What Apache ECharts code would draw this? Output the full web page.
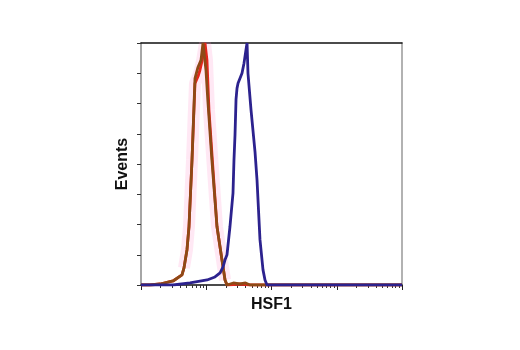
<!DOCTYPE html>
<html>
<head>
<meta charset="utf-8">
<script src="https://cdn.jsdelivr.net/npm/echarts@6/dist/echarts.min.js"></script>
<style>html,body{margin:0;padding:0;background:#fff}#c{width:520px;height:350px}</style>
</head>
<body>
<div id="c"></div>
<script>
// Fluorescence intensity (log axis, 10^0 .. 10^4) and event counts
const xMin = 1, xMax = 10000;
const yMax = 240, yStep = 30;
const minorTickValues = [2,3,4,5,6,7,8,9,20,30,40,50,60,70,80,90,200,300,400,500,600,700,800,900,2000,3000,4000,5000,6000,7000,8000,9000];

// Isotype control (red)
const redX = [1, 1.37, 1.96, 3.1, 4.25, 4.56, 5.07, 5.44, 6.05, 6.72, 7.5, 8.0, 8.6, 9.57, 10.26, 11.0, 12.4, 14.6, 17.4, 19.4, 20.8, 32.9, 46.8, 10000];
const redY = [0, 0, 1, 4, 10, 17, 35, 58, 124, 200, 207, 213, 222, 240, 223, 174, 124, 58, 25, 5, 0, 1, 0, 0];

// Second control (brown)
const brownX = [1, 1.37, 1.96, 3.1, 4.25, 4.56, 5.07, 5.44, 6.05, 6.72, 7.47, 8.31, 8.92, 9.9, 10.6, 12.2, 14.6, 17.4, 19.4, 20.8, 26, 32.9, 40, 46.8, 10000];
const brownY = [0, 0, 1, 4, 10, 17, 35, 58, 124, 205, 216, 223, 240, 213, 182, 124, 58, 25, 5, 0, 2, 1, 2, 0, 0];

// HSF1 (blue)
const blueX = [1, 1.37, 3.1, 5.64, 10.3, 13.6, 16.3, 18.1, 19.4, 20.8, 23.1, 25.7, 26.6, 27.6, 28.6, 29.6, 30.7, 32.9, 35.3, 37.9, 40.6, 42.2, 43.6, 48.5, 55.9, 60.0, 66.6, 74.1, 79.5, 85.3, 10000];
const blueY = [0, 0, 0, 2, 5, 8, 12, 18, 25, 30, 58, 91, 124, 149, 184, 195, 200, 200, 210, 220, 233, 240, 210, 174, 132, 104, 45, 15, 5, 0, 0];

const zip = (xs, ys) => xs.map((x, i) => [x, ys[i]]);

const chart = echarts.init(document.getElementById('c'), null, {renderer: 'canvas'});
const gridRect = {left: 141, right: 118, top: 43, bottom: 65};
const nameFont = {fontFamily: 'Liberation Sans Narrow, Liberation Sans, Arial', fontWeight: 'bold', fontSize: 16, color: '#111'};

chart.setOption({
  animation: false,
  backgroundColor: '#fff',
  grid: [
    Object.assign({show: false}, gridRect),
    Object.assign({show: false}, gridRect)
  ],
  xAxis: [
    {
      type: 'log', gridIndex: 0, min: xMin, max: xMax, logBase: 10,
      name: 'HSF1', nameLocation: 'middle', nameGap: 12,
      nameTextStyle: Object.assign({verticalAlign: 'top'}, nameFont),
      axisLine: {show: true, onZero: false, lineStyle: {color: '#111', width: 1.5}},
      axisTick: {show: true, length: 5, lineStyle: {color: '#222', width: 1}},
      axisLabel: {show: false},
      splitLine: {show: false}
    },
    {
      type: 'log', gridIndex: 0, min: xMin, max: xMax, position: 'top',
      axisLine: {show: true, onZero: false, lineStyle: {color: '#111', width: 1.5}},
      axisTick: {show: false}, axisLabel: {show: false}, splitLine: {show: false}
    },
    {
      type: 'log', gridIndex: 1, min: xMin, max: xMax, position: 'bottom',
      axisLine: {show: false, onZero: false},
      axisTick: {show: true, length: 3, customValues: minorTickValues, lineStyle: {color: '#333', width: 1}},
      axisLabel: {show: false}, splitLine: {show: false}
    }
  ],
  yAxis: [
    {
      type: 'value', gridIndex: 0, min: 0, max: yMax, interval: yStep,
      name: 'Events', nameLocation: 'middle', nameGap: 10, nameRotate: 90,
      nameTextStyle: nameFont,
      axisLine: {show: true, onZero: false, lineStyle: {color: '#888', width: 1.5}},
      axisTick: {show: true, length: 4, lineStyle: {color: '#333', width: 1}},
      axisLabel: {show: false}, splitLine: {show: false}
    },
    {
      type: 'value', gridIndex: 0, min: 0, max: yMax, position: 'right',
      axisLine: {show: true, onZero: false, lineStyle: {color: '#999', width: 1.5}},
      axisTick: {show: false}, axisLabel: {show: false}, splitLine: {show: false}
    },
    {
      type: 'value', gridIndex: 1, min: 0, max: yMax, show: false
    }
  ],
  series: [
    {
      type: 'line', xAxisIndex: 0, yAxisIndex: 0, data: zip(redX, redY).slice(5, 20), showSymbol: false, silent: true,
      lineStyle: {color: 'rgba(255,140,200,0.2)', width: 12}, z: 1
    },
    {
      type: 'line', xAxisIndex: 0, yAxisIndex: 0, data: zip(redX, redY), showSymbol: false,
      lineStyle: {color: '#e3261b', width: 2.8}, z: 2
    },
    {
      type: 'line', xAxisIndex: 0, yAxisIndex: 0, data: zip(brownX, brownY), showSymbol: false,
      lineStyle: {color: '#8d4a16', width: 2.8}, z: 3
    },
    {
      type: 'line', xAxisIndex: 0, yAxisIndex: 0, data: zip(blueX, blueY), showSymbol: false,
      lineStyle: {color: '#2c228e', width: 2.8}, z: 4
    }
  ]
});
</script>
</body>
</html>
